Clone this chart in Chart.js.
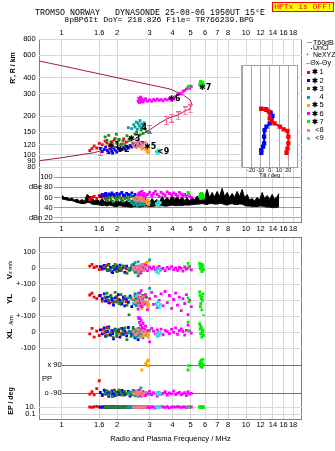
<!DOCTYPE html>
<html>
<head>
<meta charset="utf-8">
<title>Dynasonde ionogram, Tromso 25-08-06 1950UT</title>
<script src="https://cdn.jsdelivr.net/npm/chart.js@4.4.1/dist/chart.umd.min.js"></script>
<style>
  html, body { margin: 0; padding: 0; background: #fff; }
  #stage { position: relative; width: 335px; height: 451px; overflow: hidden; background: #fff; }
  #stage canvas { position: absolute; left: 0; top: 0; }
  .lbl { position: absolute; white-space: pre; color: #000; line-height: 10px;
         font-family: "Liberation Sans", Arial, sans-serif; font-size: 7.5px; }
  .hptx { position: absolute; box-sizing: border-box; background: #ffff00; border: 1px solid #ff0000;
          color: #ff0000; text-align: center; font-family: "Liberation Mono", "DejaVu Sans Mono", monospace;
          font-size: 8px; line-height: 8.6px; }
</style>
</head>
<body>
<div id="stage"></div>
<script>
// ---------------- data ----------------
const freqTicks   = [1, 1.6, 2, 3, 4, 5, 6, 7, 8, 10, 12, 14, 16, 18];
const heightTicks = [80, 90, 100, 120, 150, 200, 300, 400, 600, 800];
const ampTicks    = [100, 80, 60, 40, 20];
const tiltTicks   = [-30, -20, -10, 0, 10, 20, 30];

const groupSym    = ['✱', '✱', '✱', '', '✱', '✱', '✱', '<', '<'];
const groupNum    = ['1', '2', '3', '4', '5', '6', '7', '8', '9'];
const groupColors = ['#ff0000', '#0000ff', '#1e8a1e', '#00a4a4', '#ffa500', '#ff00ff', '#00ee00', '#f08080', '#30e0d8'];

// echo parameters, one list per echo group
const freq = [
  [1.42, 1.46, 1.50, 1.55, 1.60, 1.66, 1.72, 1.76, 1.82, 1.88, 1.93, 1.99, 2.04, 2.10, 2.17, 2.24],
  [1.62, 1.66, 1.70, 1.73, 1.77, 1.80, 1.84, 1.87, 1.91, 1.95, 1.99, 2.03, 2.07, 2.12, 2.16, 2.20, 2.25, 2.30, 2.35, 2.40, 2.45, 2.50, 2.55, 2.60, 2.65, 2.70, 2.74, 1.89],
  [1.72, 1.76, 1.80, 1.85, 1.90, 1.95, 2.00, 2.05, 2.10, 2.15, 2.20, 2.26, 2.32, 2.38, 2.44, 2.50, 2.55, 2.60, 2.65, 2.70, 2.76, 2.82, 2.88, 1.98],
  [2.40, 2.46, 2.50, 2.54, 2.57, 2.60, 2.63, 2.66, 2.69, 2.72, 2.76, 2.80, 2.30, 3.00],
  [2.86, 2.90, 2.92, 2.94, 2.96, 2.72],
  [2.60, 2.62, 2.64, 2.66, 2.68, 2.70, 2.73, 2.76, 2.80, 2.85, 2.92, 3.00, 3.08, 3.15, 3.22, 3.30, 3.38, 3.46, 3.55, 3.64, 3.74, 3.84, 3.95, 4.05, 4.15, 4.25, 4.35, 4.45, 4.55, 4.65, 4.75, 4.85, 4.95, 5.05],
  [5.60, 5.64, 5.68, 5.72, 5.76, 5.80, 5.84, 5.88, 5.66, 5.78, 4.85, 4.90],
  [2.45, 2.50, 2.55, 2.58, 2.62, 2.66, 2.70, 2.74, 2.78, 2.84],
  [3.26, 3.30, 3.34, 3.38, 3.43]
];
const height = [
  [108, 112, 117, 113, 123, 120, 128, 124, 118, 127, 131, 124, 130, 121, 133, 126],
  [112, 106, 110, 115, 108, 104, 111, 107, 113, 109, 105, 112, 108, 110, 114, 111, 116, 113, 118, 115, 120, 117, 122, 119, 124, 121, 125, 103],
  [138, 130, 142, 126, 116, 134, 124, 132, 120, 128, 118, 141, 132, 137, 123, 145, 150, 128, 143, 156, 147, 160, 152, 145],
  [160, 172, 165, 180, 158, 176, 168, 185, 162, 174, 170, 178, 163, 150],
  [110, 106, 112, 108, 104, 111],
  [262, 276, 255, 268, 282, 260, 272, 258, 266, 274, 262, 268, 262, 270, 265, 272, 266, 270, 264, 272, 268, 274, 266, 272, 285, 295, 302, 298, 312, 318, 326, 334, 330, 342],
  [352, 365, 345, 372, 358, 368, 362, 350, 375, 342, 338, 344],
  [118, 124, 114, 121, 127, 116, 123, 119, 113, 125],
  [106, 103, 109, 105, 108]
];
const amp = [
  [56, 60, 62, 58, 64, 61, 63, 57, 60, 65, 62, 58, 61, 59, 63, 60],
  [62, 66, 64, 68, 63, 67, 65, 69, 66, 62, 68, 64, 67, 70, 65, 63, 68, 66, 64, 69, 62, 66, 60, 64, 58, 62, 60, 66],
  [58, 54, 60, 56, 52, 59, 55, 61, 57, 53, 58, 60, 56, 62, 54, 59, 57, 61, 55, 58, 60, 56, 54, 57],
  [50, 46, 52, 48, 44, 54, 47, 50, 45, 52, 48, 46, 55, 50],
  [52, 48, 55, 50, 46, 53],
  [64, 68, 62, 70, 66, 60, 72, 65, 68, 62, 66, 70, 64, 68, 72, 66, 62, 70, 67, 64, 71, 68, 65, 69, 66, 63, 70, 67, 64, 66, 62, 65, 63, 60],
  [62, 66, 58, 68, 64, 60, 65, 59, 63, 67, 70, 66],
  [58, 55, 61, 53, 59, 56, 60, 54, 57, 52],
  [48, 45, 52, 46, 50]
];
const vz = [
  [14, 25, 5, 12, -8, 10, 0, 18, -12, 6, -5, 15, 2, -15, 8, -3],
  [10, -5, 18, 2, -12, 25, 6, -20, 12, -8, 4, -15, 20, -3, 8, -25, 14, 0, -10, 6, 22, -6, 10, -18, 4, -12, 8, -27],
  [10, -8, 20, -15, 5, 25, -20, 8, -5, 15, 12, -31, -12, 3, 18, -25, 6, -47, 10, -8, 22, -3, 12, -18],
  [20, -10, 35, 5, -25, 40, -5, 15, -30, 10, -15, 25, 0, 52],
  [30, 20, 40, 15, 10, 25],
  [-5, -20, 10, -30, 5, -12, 15, -8, 0, 20, -15, 5, -3, 8, -10, 2, 12, -6, 0, -15, 6, -4, 10, -8, 3, -12, 5, 0, -18, 8, -5, 2, 12, -10],
  [30, 10, -5, 20, -21, 5, 15, -10, 0, 25, 31, 8],
  [5, -10, 15, 0, -20, 10, -5, 20, -15, 8],
  [-20, -10, -30, 0, -15]
];
const yl = [
  [33, 44, 20, 10, 28, -5, 15, 0, -18, 12, -10, 22, 5, -25, 8, -8],
  [30, 10, 40, -5, 20, -15, 25, 5, -30, 15, -10, 35, 0, -20, 18, -35, 8, -12, 26, -40, 5, -22, 12, -28, 0, -15, 10, -8],
  [20, 45, 0, 30, -15, 50, 10, -20, 35, -5, 25, -30, -92, 15, 5, 40, -10, 20, -25, 8, 30, -12, 18, -8],
  [10, -20, 30, -35, 5, 45, -10, 20, -40, 0, 25, -25, 15, 75],
  [-15, -30, -10, -45, -25, -50],
  [-55, 20, -30, 45, -10, 60, -40, 15, -20, 35, -60, 10, 50, -25, 25, -45, 0, 40, -35, 55, -15, 30, -50, 5, 45, -30, 20, -65, 10, -20, 35, -90, 0, -40],
  [52, 30, -20, 10, -60, 0, 40, -98, -40, 20, 15, -10],
  [10, -15, 25, -5, -30, 15, 0, -20, 20, -10],
  [-20, -35, -10, -45, -25]
];
const xl = [
  [-10, 25, -30, 8, -20, 15, -5, 30, -15, 0, 12, -25, 5, -8, 18, -3],
  [15, -10, 28, -25, 5, 33, -18, 10, -40, 20, -5, 12, -30, 25, -12, 8, -22, 30, 0, -15, 18, -35, 6, -46, 14, -20, 4, -8],
  [10, -20, 25, 0, -30, 15, -10, 20, -15, 5, 28, -46, 8, -25, 30, -5, 12, -20, 22, -10, 5, 15, -18, 2],
  [5, -20, 15, -30, 10, 25, -10, 0, -25, 20, -35, 8, -5, 12],
  [-5, -20, 0, -30, -12, -25],
  [100, 85, 62, 92, 45, 75, 30, 55, 20, 38, 10, -60, 25, 8, -10, 15, 0, 20, -15, 12, 5, -8, 18, 0, 28, -12, 10, 22, 5, -17, 12, 45, 8, -5],
  [54, 20, -10, 30, -29, 5, 15, -20, 40, 0, 64, 10],
  [8, -12, 20, -5, 15, -25, 0, 10, -18, 5],
  [-10, -25, 0, -20, -5]
];
const pp = [
  [-95, -80, -100, -60, -10, -105, -75, -92, -88, -110, -70, -95, -85, -100, -78, -90],
  [-85, -100, -70, -95, -80, -110, -88, -75, -92, -105, -82, -98, -90, -72, -86, -100, -94, -78, -108, -84, -96, -88, -102, -76, -90, -98, -84, -92],
  [-90, -75, -100, -85, -110, -80, -95, -70, -88, -102, -78, -92, -85, -98, -72, -105, -90, -82, -96, -88, -78, -100, -86, -94],
  [-85, -100, -75, -95, -90, -110, -80, -88, -56, -98, -92, -84, -90, -95],
  [100, 90, 115, 85, 122, 58],
  [-75, -95, -70, -100, -85, -110, -80, -92, -88, -105, -95, -78, -100, -86, -92, -108, -84, -96, -90, -80, -102, -88, -94, -76, -98, -90, -84, -100, -92, -86, -104, -80, -95, -90],
  [95, 110, 80, 120, 100, 88, 126, 92, 105, 75, 58, 85],
  [-88, -95, -80, -100, -85, -92, -78, -105, -90, -84],
  [-88, -95, -82, -100, -90]
];
const ep = [
  [10, 8, 12, 15, 9, 11, 10, 7, 13, 10, 9, 12, 10, 11, 8, 10],
  [10, 8, 12, 9, 11, 10, 7, 13, 10, 9, 12, 10, 8, 11, 10, 9, 13, 10, 8, 12, 10, 11, 9, 10, 12, 8, 10, 11],
  [10, 9, 12, 8, 11, 10, 13, 9, 10, 7, 12, 10, 11, 9, 10, 8, 12, 10, 9, 11, 10, 8, 12, 10],
  [10, 9, 12, 8, 11, 10, 13, 9, 10, 12, 8, 10, 11, 9],
  [10, 9, 11, 10, 12, 10],
  [10, 12, 8, 15, 9, 11, 6, 10, 13, 9, 10, 7, 12, 10, 5, 11, 9, 14, 10, 8, 12, 6, 10, 11, 9, 13, 10, 8, 11, 10, 7, 12, 9, 10],
  [10, 8, 12, 9, 11, 10, 13, 7, 10, 11, 10, 9],
  [10, 9, 11, 10, 12, 8, 10, 11, 9, 10],
  [10, 9, 11, 10, 12]
];

// group tags written next to their echoes
const tagGroup  = [0, 1, 2, 3, 4, 5, 6, 8];
const tagFreq   = [1.78, 2.00, 2.29, 2.71, 2.80, 3.79, 5.56, 3.29];
const tagHeight = [117, 109, 132, 161, 116, 272, 330, 105];

// electron density profile (real height vs plasma frequency)
const profFreq   = [0.756, 1.0, 1.50, 1.99, 2.45, 2.99, 3.42, 3.87, 4.29, 4.67, 4.97, 5.08, 4.97, 4.57, 3.87, 3.01, 1.61, 1.0, 0.756];
const profHeight = [90, 95, 104, 116, 131, 156, 178, 196, 205, 220, 228, 249, 268, 293, 326, 352, 427, 495, 539];
const neFreq     = [1.62, 1.80, 2.40, 2.98, 3.71, 3.95, 4.29, 4.67, 4.97];
const neHeight   = [106, 111, 128, 158, 185, 193, 201, 220, 228];

// receiver amplitude envelope (dB): upper and lower edge of the trace
const noiseFreq = [1.004, 1.036, 1.068, 1.102, 1.137, 1.173, 1.211, 1.249, 1.289, 1.329,
                   1.372, 1.415, 1.460, 1.506, 1.554, 1.604, 1.655, 1.707, 1.762, 1.817,
                   1.875, 1.934, 1.996, 2.059, 2.125, 2.192, 2.262, 2.333, 2.408, 2.484,
                   2.563, 2.644, 2.729, 2.814, 2.905, 2.996, 3.093, 3.189, 3.292, 3.394,
                   3.505, 3.613, 3.731, 3.846, 3.972, 4.094, 4.228, 4.358, 4.501, 4.639,
                   4.791, 4.938, 5.101, 5.256, 5.430, 5.595, 5.780, 5.956, 6.153, 6.340,
                   6.550, 6.749, 6.973, 7.184, 7.423, 7.647, 7.902, 8.140, 8.412, 8.665,
                   8.955, 9.223, 9.533, 9.815, 10.15, 10.45, 10.80, 11.12, 11.50, 11.84,
                   12.24, 12.60, 13.03, 13.41, 13.87, 14.28, 14.77, 15.1];
const noiseHigh = [64, 60, 60, 57, 59, 55, 57, 53, 56, 52,
                   66, 62, 60, 53, 57, 52, 58, 52, 56, 51,
                   55, 50, 56, 51, 55, 50, 54, 49, 55, 50,
                   54, 50, 57, 51, 55, 50, 58, 52, 56, 51,
                   62, 54, 60, 54, 64, 56, 62, 55, 61, 54,
                   59, 53, 60, 55, 63, 57, 66, 58, 76, 60,
                   70, 61, 72, 62, 78, 62, 70, 60, 68, 60,
                   72, 62, 76, 60, 66, 55, 58, 53, 60, 55,
                   70, 58, 64, 56, 66, 56, 62, 68];
const noiseLow  = [57, 56, 55, 54, 54, 52, 50, 49, 48, 48,
                   50, 50, 47, 46, 46, 45, 44, 45, 43, 45,
                   44, 42, 42, 44, 43, 42, 42, 41, 41, 42,
                   42, 41, 42, 43, 43, 42, 42, 43, 44, 43,
                   44, 43, 43, 44, 45, 44, 44, 44, 44, 45,
                   45, 45, 46, 46, 47, 47, 48, 47, 46, 48,
                   48, 47, 47, 48, 48, 46, 45, 47, 48, 46,
                   46, 47, 47, 44, 43, 43, 42, 42, 42, 43,
                   43, 42, 41, 41, 40, 40, 40, 42];

// echo tilt vs height
const tiltXHeight = [228, 227, 217, 193, 187, 176, 166, 158, 154, 139, 123, 112, 104];
const tiltX       = [-9, -4, -1, 0, 1, 5, 11, 15, 19, 20, 20, 19, 18];
const tiltYHeight = [228, 224, 213, 201, 187, 176, 166, 156, 139, 123, 116, 109, 104];
const tiltY       = [-9, -3.5, 1, 3, 2, 0, -3.5, -5.5, -6, -6, -7, -9, -9];

// ---------------- drawing ----------------
const W = 335, H = 451;
const stage = document.getElementById('stage');
const FONT = '"Liberation Sans", Arial, sans-serif';
const MONO = '"Liberation Mono", "DejaVu Sans Mono", monospace';
const tickFont = {family: FONT, size: 7.5};
const LIGHT = '#d8d8d8';
Chart.defaults.font.family = FONT;

// frequency axis: 1 MHz at x = 61.7 px, 184.3 px per decade
const F1PX = 61.7, DECADE = 184.3;
const freqAtPx = px => Math.pow(10, (px - F1PX) / DECADE);

const fixWidth  = w => s => { s.width = w; s.paddingTop = 0; s.paddingBottom = 0; s.paddingLeft = 0; s.paddingRight = 0; };
const fixHeight = h => s => { s.height = h; s.paddingTop = 0; s.paddingBottom = 0; s.paddingLeft = 0; s.paddingRight = 0; };
const useTicks  = vals => s => { s.ticks = vals.map(v => ({value: v})); };

const framePlugin = {
  id: 'frame',
  beforeDraw(chart, args, opts) {
    if (!opts.fill) return;
    const a = chart.chartArea, ctx = chart.ctx;
    ctx.save(); ctx.fillStyle = opts.fill;
    ctx.fillRect(a.left, a.top, a.right - a.left, a.bottom - a.top);
    ctx.restore();
  },
  afterDraw(chart, args, opts) {
    if (!opts.color) return;
    const a = chart.chartArea, ctx = chart.ctx;
    ctx.save(); ctx.strokeStyle = opts.color; ctx.lineWidth = 1;
    ctx.strokeRect(Math.round(a.left) + 0.5, Math.round(a.top) + 0.5,
                   Math.round(a.right) - Math.round(a.left) - 1, Math.round(a.bottom) - Math.round(a.top));
    ctx.restore();
  }
};

const tagPlugin = {
  id: 'tags',
  afterDatasetsDraw(chart) {
    const {ctx, scales: {x, y}} = chart;
    ctx.save();
    ctx.font = 'bold 8px "DejaVu Sans", sans-serif';
    ctx.fillStyle = '#000';
    ctx.textBaseline = 'middle';
    tagGroup.forEach((g, i) => {
      ctx.fillText(groupSym[g] + groupNum[g], x.getPixelForValue(tagFreq[i]), y.getPixelForValue(tagHeight[i]));
    });
    ctx.restore();
  }
};

function addChart(config) {
  const c = document.createElement('canvas');
  c.width = W; c.height = H;
  stage.appendChild(c);
  return new Chart(c.getContext('2d'), config);
}

function baseOptions(padding, scales, pluginOpts) {
  return {
    responsive: false, maintainAspectRatio: false, animation: false, devicePixelRatio: 1, events: [],
    layout: {padding},
    plugins: Object.assign({legend: {display: false}, tooltip: {enabled: false}}, pluginOpts || {}),
    scales
  };
}

function freqAxis(left, right, position, height, pad, showGrid, extra) {
  return Object.assign({
    type: 'logarithmic', position, min: freqAtPx(left), max: freqAtPx(right),
    afterBuildTicks: useTicks(freqTicks), afterFit: fixHeight(height),
    border: {display: false},
    grid: showGrid ? {color: LIGHT, drawTicks: false} : {display: false, drawTicks: false},
    ticks: {font: tickFont, color: '#000', padding: pad, autoSkip: false, maxRotation: 0, minRotation: 0,
            callback: v => String(v)}
  }, extra || {});
}
const hiddenFreq = (left, right) => ({type: 'logarithmic', display: false, min: freqAtPx(left), max: freqAtPx(right)});

function valueAxis(type, min, max, ticks, labels, width, pad, gridColor) {
  return {
    type, position: 'left', min, max,
    afterBuildTicks: useTicks(ticks), afterFit: fixWidth(width),
    border: {display: false},
    grid: {color: gridColor, drawTicks: false},
    ticks: {font: tickFont, color: '#000', padding: pad, autoSkip: false,
            callback: v => (labels[v] !== undefined ? labels[v] : String(v))}
  };
}

function groupSets(values) {
  return freq.map((fs, g) => ({
    label: groupSym[g] + groupNum[g],
    data: fs.map((f, i) => ({x: f, y: values[g][i]})),
    backgroundColor: groupColors[g], borderWidth: 0,
    pointStyle: 'rect', pointRadius: 2, order: 9 - g
  }));
}

function errorBarMarker(color) {
  const c = document.createElement('canvas');
  c.width = 5; c.height = 9;
  const g = c.getContext('2d');
  g.fillStyle = color;
  g.fillRect(2, 0, 1, 9); g.fillRect(0, 0, 5, 1); g.fillRect(0, 8, 5, 1);
  return c;
}

// ---- upper box: frequency grid with top and bottom labels ----
addChart({
  type: 'scatter', data: {datasets: []},
  options: baseOptions({left: 39, top: 39 - 12, right: W - 302, bottom: H - 222 - 14}, {
    xTop: freqAxis(39, 302, 'top', 12, 1.2, true),
    xBot: freqAxis(39, 302, 'bottom', 14, 2.8, false),
    y: {display: false, min: 0, max: 1}
  }, {frame: {color: '#808080'}}),
  plugins: [framePlugin]
});

// ---- virtual height panel ----
const heightLabels = {};
heightTicks.forEach(v => heightLabels[v] = String(v));
addChart({
  type: 'scatter',
  data: {datasets: [
    ...groupSets(height),
    {label: 'profile', data: profFreq.map((f, i) => ({x: f, y: profHeight[i]})), showLine: true,
     borderColor: '#a3184a', borderWidth: 1, pointRadius: 0, order: 30},
    {label: 'NeXYZ', data: neFreq.map((f, i) => ({x: f, y: neHeight[i]})), showLine: false,
     pointStyle: errorBarMarker('#ff5a8c'), pointRadius: 4, order: 29}
  ]},
  options: baseOptions({left: 0, top: 39, right: W - 302, bottom: H - 172}, {
    x: hiddenFreq(39, 302),
    y: valueAxis('logarithmic', 73.5, 800, heightTicks, heightLabels, 39, 3.3, LIGHT)
  }),
  plugins: [tagPlugin]
});

// ---- amplitude panel ----
addChart({
  type: 'scatter',
  data: {datasets: [
    ...groupSets(amp),
    {label: 'amplitude max', data: noiseFreq.map((f, i) => ({x: f, y: noiseHigh[i]})), showLine: true,
     borderColor: '#000', backgroundColor: '#000', borderWidth: 1, pointRadius: 0, fill: '+1', order: 20},
    {label: 'amplitude min', data: noiseFreq.map((f, i) => ({x: f, y: noiseLow[i]})), showLine: true,
     borderColor: '#000', borderWidth: 1, pointRadius: 0, fill: false, order: 21}
  ]},
  options: baseOptions({left: 0, top: 172, right: W - 302, bottom: H - 222}, {
    x: hiddenFreq(53.5, 302),
    y: Object.assign(valueAxis('linear', 11.5, 110.5, ampTicks, {100: '100', 80: 'dBe 80', 60: '60', 40: '40', 20: 'dBn 20'}, 53.5, 0.8, '#9a9a9a'),
      {grid: {drawTicks: false, color: c => (c.tick && c.tick.value === 20 ? '#a8a8ff' : '#9a9a9a')}})
  })
});

// ---- tilt inset ----
addChart({
  type: 'scatter',
  data: {datasets: [
    {label: 'Θx', data: tiltX.map((t, i) => ({x: t, y: tiltXHeight[i]})), showLine: true,
     borderColor: '#ff0000', backgroundColor: '#ff0000', borderWidth: 2, pointStyle: 'rect', pointRadius: 1.6},
    {label: 'Θy', data: tiltY.map((t, i) => ({x: t, y: tiltYHeight[i]})), showLine: true,
     borderColor: '#0000ff', backgroundColor: '#0000ff', borderWidth: 2, pointStyle: 'rect', pointRadius: 1.6}
  ]},
  options: baseOptions({left: 241.7, top: 65, right: W - 297.7, bottom: H - 166.7 - 12}, {
    x: {type: 'linear', position: 'bottom', min: -30, max: 30,
        afterBuildTicks: useTicks(tiltTicks), afterFit: fixHeight(12),
        border: {display: false}, grid: {color: '#a8a8b4', drawTicks: false},
        ticks: {font: {family: FONT, size: 5.5}, color: '#000', padding: 0, autoSkip: false, maxRotation: 0,
                callback: v => (Math.abs(v) === 30 ? '' : String(v))},
        title: {display: true, text: 'Tilt / deg', color: '#000', font: {family: FONT, size: 5.5}, padding: {top: 0, bottom: 0.4}}},
    y: {type: 'logarithmic', display: false, min: 81, max: 501}
  }, {frame: {color: '#a0a0a8', fill: '#ffffff'}}),
  plugins: [framePlugin]
});

// ---- lower box: frequency grid, labels and title ----
addChart({
  type: 'scatter', data: {datasets: []},
  options: baseOptions({left: 39, top: 237, right: W - 302, bottom: H - 419.3 - 26}, {
    x: freqAxis(39, 302, 'bottom', 26, 1.2, true, {
      title: {display: true, text: 'Radio and Plasma Frequency / MHz', color: '#000',
              font: {family: FONT, size: 7.5}, padding: {top: 0, bottom: 1.8}}
    }),
    y: {display: false, min: 0, max: 1}
  }, {frame: {color: '#808080'}}),
  plugins: [framePlugin]
});

// ---- lower panels ----
function lowerPanel(values, top, bottom, yAxis, left) {
  addChart({
    type: 'scatter',
    data: {datasets: groupSets(values)},
    options: baseOptions({left: 0, top, right: W - 302, bottom: H - bottom}, {
      x: hiddenFreq(left, 302),
      y: yAxis
    })
  });
}
lowerPanel(vz, 237, 284.3, valueAxis('linear', -100, 195.6, [100, 0], {100: '100', 0: '0'}, 39, 3.3, LIGHT), 39);
lowerPanel(yl, 284.3, 316.3, valueAxis('linear', -100, 100, [100, 0], {100: '+-100', 0: '0'}, 39, 3.3, LIGHT), 39);
lowerPanel(xl, 316.3, 357, valueAxis('linear', -154, 100, [100, 0, -100], {100: '+-100', 0: '0', '-100': '-100'}, 39, 3.3, LIGHT), 39);
lowerPanel(pp, 357, 400, valueAxis('linear', -132.6, 140.9, [90, -90], {90: 'x 90', '-90': 'o -90'}, 62.3, 0.6, '#707070'), 62.3);
lowerPanel(ep, 400, 419.3, valueAxis('logarithmic', 0.00427, 828, [10, 0.1], {10: '10.', 0.1: '0.1'}, 39, 3.3, LIGHT), 39);

// ---------------- text and legend ----------------
function label(text, x, y, o = {}) {
  const d = document.createElement('div');
  d.className = 'lbl';
  if (o.html) d.innerHTML = text; else d.textContent = text;
  d.style.left = x + 'px';
  d.style.top = (y - 5) + 'px';
  if (o.size) d.style.fontSize = o.size + 'px';
  if (o.bold) d.style.fontWeight = 'bold';
  if (o.color) d.style.color = o.color;
  if (o.mono) d.style.fontFamily = MONO;
  if (o.rot) { d.style.top = y + 'px'; d.style.transform = 'translate(-50%, -50%) rotate(-90deg)'; }
  stage.appendChild(d);
  return d;
}
function swatch(x, y, w, h, color) {
  const d = document.createElement('div');
  Object.assign(d.style, {position: 'absolute', left: x + 'px', top: y + 'px', width: w + 'px', height: h + 'px', background: color});
  stage.appendChild(d);
}

label('TROMSO NORWAY   DYNASONDE 25-08-06 1950UT 15°E', 35, 12.7, {mono: true, size: 8.33});
label('8pBP6It DoY= 218.826 File= TR766239.BPG', 64.3, 20, {mono: true, size: 8.1});
const hp = document.createElement('div');
hp.className = 'hptx';
hp.textContent = 'HPTx is OFF!';
Object.assign(hp.style, {left: '271.7px', top: '1.7px', width: '62.6px', height: '10.6px'});
stage.appendChild(hp);

// axis titles
label("R', R / km", 13, 68, {rot: true, bold: true, size: 7});
label('<b>V</b><span style="font-size:5.5px">z m/s</span>', 10, 269.5, {rot: true, html: true, size: 8});
label('YL', 10, 299, {rot: true, bold: true, size: 8});
label('/km', 10.5, 319.5, {rot: true, size: 6});
label('XL', 10, 333.5, {rot: true, bold: true, size: 8});
label('EP / deg', 11, 401, {rot: true, bold: true, size: 7});
label('PP', 42, 379.3);

// legend
swatch(306.5, 42, 5, 1, '#999999');
label('T60dB', 313, 42.7, {size: 7});
swatch(310.5, 47.5, 1, 1, '#000000');
label('UnCl', 313, 48.3, {size: 7});
label('+', 305.3, 54.7, {size: 8, color: '#ff5a8c'});
label('NeXYZ', 313, 55, {size: 7});
swatch(305.5, 62.5, 4, 1, '#f08080');
label('Θx', 310.3, 63.3, {size: 7});
swatch(317.5, 62.5, 4, 1, '#8080ff');
label('Θy', 322, 63.3, {size: 7});
groupColors.forEach((col, g) => {
  const y = 72.3 + g * 8.25;
  swatch(306.5, y - 1.5, 3, 3, col);
  if (groupSym[g]) label(groupSym[g], groupSym[g] === '<' ? 315.2 : 312.3, y, {size: 7, bold: groupSym[g] !== '<'});
  label(groupNum[g], 319.5, y, {size: 7.5});
});
</script>
</body>
</html>
